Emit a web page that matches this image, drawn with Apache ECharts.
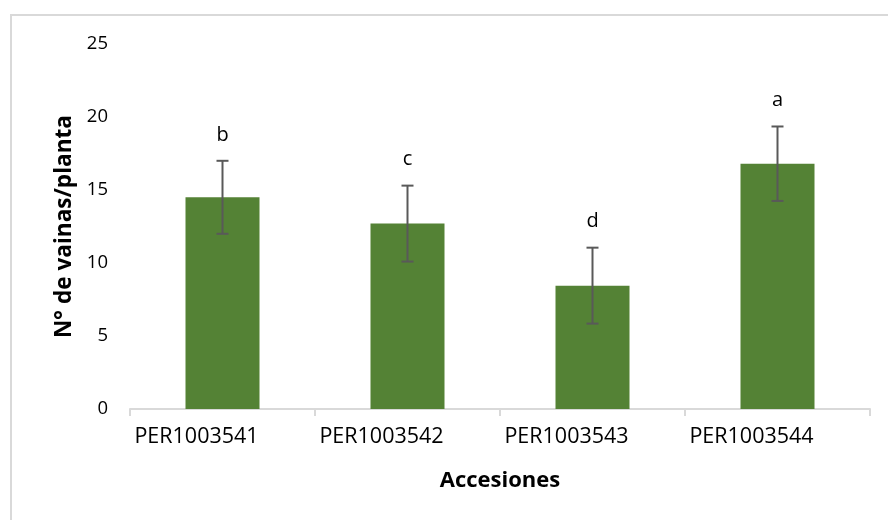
<!DOCTYPE html>
<html>
<head>
<meta charset="utf-8">
<script src="https://cdn.jsdelivr.net/npm/echarts@6/dist/echarts.min.js"></script>
<style>
html,body{margin:0;padding:0;background:#fff;}
#chart{width:888px;height:520px;}
</style>
</head>
<body>
<div id="chart"></div>
<script>
var categories = ['PER1003541', 'PER1003542', 'PER1003543', 'PER1003544'];
var values = [14.5, 12.7, 8.45, 16.8];
var errors = [2.5, 2.6, 2.6, 2.55];
var letters = ['b', 'c', 'd', 'a'];
var yTicks = [0, 5, 10, 15, 20, 25];

var FONT = '"Open Sans", sans-serif';
var chart = echarts.init(document.getElementById('chart'), null, {renderer: 'canvas'});

var errData = values.map(function (v, i) { return [i, v - errors[i], v + errors[i], letters[i]]; });

chart.setOption({
  backgroundColor: '#ffffff',
  animation: false,
  graphic: [{
    type: 'rect',
    shape: {x: 11, y: 15, width: 900, height: 540},
    style: {fill: 'none', stroke: '#d9d9d9', lineWidth: 2},
    silent: true
  }],
  grid: {left: 130, right: 18, top: 44, bottom: 111, containLabel: false},
  xAxis: {
    type: 'category',
    data: categories,
    boundaryGap: true,
    axisLine: {show: true, lineStyle: {color: '#d9d9d9', width: 2}},
    axisTick: {show: true, length: 7, alignWithLabel: false, lineStyle: {color: '#d9d9d9', width: 2}},
    axisLabel: {color: '#000', fontFamily: FONT, fontSize: 21.5, margin: 17, padding: [0, 52, 0, 0]},
    name: 'Accesiones',
    nameLocation: 'middle',
    nameGap: 61,
    nameTextStyle: {color: '#000', fontFamily: FONT, fontSize: 22, fontWeight: 'bold'}
  },
  yAxis: {
    type: 'value',
    min: yTicks[0],
    max: yTicks[yTicks.length - 1],
    interval: yTicks[1] - yTicks[0],
    axisLine: {show: false},
    axisTick: {show: false},
    splitLine: {show: false},
    axisLabel: {color: '#000', fontFamily: FONT, fontSize: 18.5, margin: 22},
    name: 'N° de vainas/planta',
    nameLocation: 'middle',
    nameGap: 54,
    nameRotate: 90,
    nameTextStyle: {color: '#000', fontFamily: FONT, fontSize: 22.6, fontWeight: 'bold'}
  },
  series: [{
    type: 'bar',
    data: values,
    barWidth: '40%',
    itemStyle: {color: '#548235'},
    z: 2
  }, {
    type: 'custom',
    data: errData,
    z: 5,
    renderItem: function (params, api) {
      var i = api.value(0);
      var lo = api.coord([i, api.value(1)]);
      var hi = api.coord([i, api.value(2)]);
      var x = lo[0];
      var cap = 6;
      var st = {stroke: '#595959', lineWidth: 2};
      return {
        type: 'group',
        children: [
          {type: 'line', shape: {x1: x, y1: lo[1], x2: x, y2: hi[1]}, style: st},
          {type: 'line', shape: {x1: x - cap, y1: lo[1], x2: x + cap, y2: lo[1]}, style: st},
          {type: 'line', shape: {x1: x - cap, y1: hi[1], x2: x + cap, y2: hi[1]}, style: st},
          {type: 'text', x: x, y: hi[1] - 26, style: {text: api.value(3), fill: '#000', font: '20px ' + FONT, align: 'center', verticalAlign: 'middle'}}
        ]
      };
    }
  }]
});
</script>
</body>
</html>
